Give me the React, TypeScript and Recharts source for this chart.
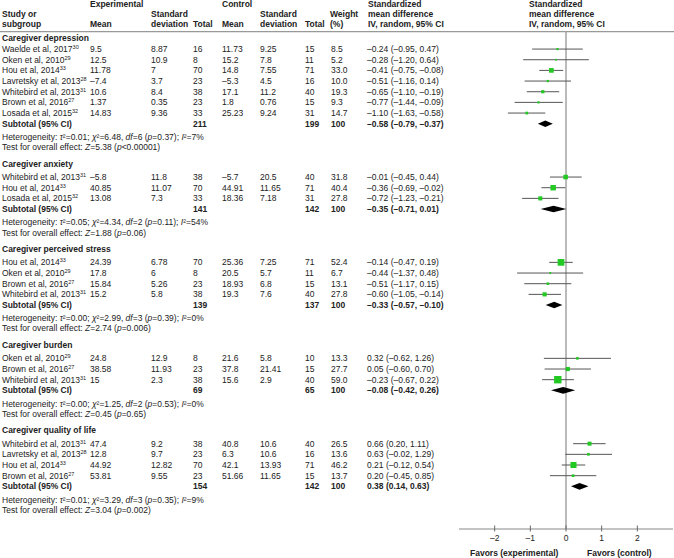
import React from 'react';
import { ComposedChart, Scatter, XAxis, YAxis, ErrorBar, ReferenceLine } from 'recharts';

const FONT = '"Liberation Sans", Arial, Helvetica, sans-serif';
const TEXT = '#222';
const GREEN = '#22c922';
const FS = 8.5;

const groupTitles = [
  'Caregiver depression',
  'Caregiver anxiety',
  'Caregiver perceived stress',
  'Caregiver burden',
  'Caregiver quality of life',
];

// one entry per study, in the order they appear
const studyGroup = [0, 0, 0, 0, 0, 0, 0, 1, 1, 1, 2, 2, 2, 2, 3, 3, 3, 4, 4, 4, 4];
const studyName = [
  'Waelde et al, 2017', 'Oken et al, 2010', 'Hou et al, 2014', 'Lavretsky et al, 2013',
  'Whitebird et al, 2013', 'Brown et al, 2016', 'Losada et al, 2015',
  'Whitebird et al, 2013', 'Hou et al, 2014', 'Losada et al, 2015',
  'Hou et al, 2014', 'Oken et al, 2010', 'Brown et al, 2016', 'Whitebird et al, 2013',
  'Oken et al, 2010', 'Brown et al, 2016', 'Whitebird et al, 2013',
  'Whitebird et al, 2013', 'Lavretsky et al, 2013', 'Hou et al, 2014', 'Brown et al, 2016',
];
const studyRef = ['30', '29', '33', '28', '31', '27', '32', '31', '33', '32', '33', '29', '27', '31', '29', '27', '31', '31', '28', '33', '27'];
const expMean = [9.5, 12.5, 11.78, -7.4, 10.6, 1.37, 14.83, -5.8, 40.85, 13.08, 24.39, 17.8, 15.84, 15.2, 24.8, 38.58, 15, 47.4, 12.8, 44.92, 53.81];
const expSD = [8.87, 10.9, 7, 3.7, 8.4, 0.35, 9.36, 11.8, 11.07, 7.3, 6.78, 6, 5.26, 5.8, 12.9, 11.93, 2.3, 9.2, 9.7, 12.82, 9.55];
const expN = [16, 8, 70, 23, 38, 23, 33, 38, 70, 33, 70, 8, 23, 38, 8, 23, 38, 38, 23, 70, 23];
const ctrlMean = [11.73, 15.2, 14.8, -5.3, 17.1, 1.8, 25.23, -5.7, 44.91, 18.36, 25.36, 20.5, 18.93, 19.3, 21.6, 37.8, 15.6, 40.8, 6.3, 42.1, 51.66];
const ctrlSD = [9.25, 7.8, 7.55, 4.5, 11.2, 0.76, 9.24, 20.5, 11.65, 7.18, 7.25, 5.7, 6.8, 7.6, 5.8, 21.41, 2.9, 10.6, 10.6, 13.93, 11.65];
const ctrlN = [15, 11, 71, 16, 40, 15, 31, 40, 71, 31, 71, 11, 15, 40, 10, 15, 40, 40, 16, 71, 15];
const weight = [8.5, 5.2, 33.0, 10.0, 19.3, 9.3, 14.7, 31.8, 40.4, 27.8, 52.4, 6.7, 13.1, 27.8, 13.3, 27.7, 59.0, 26.5, 13.6, 46.2, 13.7];
const smd = [-0.24, -0.28, -0.41, -0.51, -0.65, -0.77, -1.10, -0.01, -0.36, -0.72, -0.14, -0.44, -0.51, -0.60, 0.32, 0.05, -0.23, 0.66, 0.63, 0.21, 0.20];
const ciLow = [-0.95, -1.20, -0.75, -1.16, -1.10, -1.44, -1.63, -0.45, -0.69, -1.23, -0.47, -1.37, -1.17, -1.05, -0.62, -0.60, -0.67, 0.20, -0.02, -0.12, -0.45];
const ciHigh = [0.47, 0.64, -0.08, 0.14, -0.19, -0.09, -0.58, 0.44, -0.02, -0.21, 0.19, 0.48, 0.15, -0.14, 1.26, 0.70, 0.22, 1.11, 1.29, 0.54, 0.85];

// one entry per subgroup
const subExpN = [211, 141, 139, 69, 154];
const subCtrlN = [199, 142, 137, 65, 142];
const subSmd = [-0.58, -0.35, -0.33, -0.08, 0.38];
const subLow = [-0.79, -0.71, -0.57, -0.42, 0.14];
const subHigh = [-0.37, 0.01, -0.10, 0.26, 0.63];
const tau2 = ['0.01', '0.05', '0.00', '0.00', '0.01'];
const chi2 = ['6.48', '4.34', '2.99', '1.25', '3.29'];
const hetDf = [6, 2, 3, 2, 3];
const hetP = ['0.37', '0.11', '0.39', '0.53', '0.35'];
const iSq = [7, 54, 0, 0, 9];
const zVal = ['5.38', '1.88', '2.74', '0.45', '3.04'];
const zP = ['<0.00001', '=0.06', '=0.006', '=0.65', '=0.002'];

const xTicks = [-2, -1, 0, 1, 2];

type Row = { y: number; kind: 'header' | 'study' | 'subtotal' | 'het' | 'test'; idx: number };

const rows: Row[] = [];
const studyRow: number[] = [];
const subRow: number[] = [];
let cursor = 0;
groupTitles.forEach((_, g) => {
  rows.push({ y: g === 0 ? cursor : cursor - 0.25, kind: 'header', idx: g });
  studyGroup.forEach((sg, i) => {
    if (sg !== g) return;
    cursor += 1;
    studyRow[i] = cursor;
    rows.push({ y: cursor, kind: 'study', idx: i });
  });
  cursor += 1;
  subRow[g] = cursor;
  rows.push({ y: cursor, kind: 'subtotal', idx: g });
  rows.push({ y: cursor + 1.25, kind: 'het', idx: g });
  rows.push({ y: cursor + 2.2, kind: 'test', idx: g });
  cursor += 4;
});

const studyData = smd.map((m, i) => ({
  x: m,
  y: studyRow[i],
  err: [m - ciLow[i], ciHigh[i] - m],
  w: weight[i],
}));

const fmt = (v: number) => String(v).replace('-', '–');
const fmt2 = (v: number) => v.toFixed(2).replace('-', '–');
const ciText = (m: number, lo: number, hi: number) => `${fmt2(m)} (${fmt2(lo)}, ${fmt2(hi)})`;

const col = { name: 2, expMean: 90, expSD: 151, expN: 193, ctrlMean: 222, ctrlSD: 260, ctrlN: 305, weight: 331, ci: 367 };

const T = ({ x, y, bold, children }: { x: number; y: number; bold?: boolean; children: React.ReactNode }) => (
  <text x={x} y={y} fontSize={FS} fontFamily={FONT} fill={TEXT} fontWeight={bold ? 'bold' : 'normal'}>
    {children}
  </text>
);

const I = ({ children }: { children: React.ReactNode }) => <tspan fontStyle="italic">{children}</tspan>;

const RowTick = (props: any) => {
  const { y, payload } = props;
  const row = rows.find((r) => Math.abs(r.y - payload.value) < 1e-6);
  if (!row) return null;
  const by = y + 3;
  const i = row.idx;
  if (row.kind === 'header') {
    return <T x={col.name} y={by} bold>{groupTitles[i]}</T>;
  }
  if (row.kind === 'study') {
    return (
      <g>
        <T x={col.name} y={by}>
          {studyName[i]}
          <tspan dy={-3} fontSize={5.5}>{studyRef[i]}</tspan>
        </T>
        <T x={col.expMean} y={by}>{fmt(expMean[i])}</T>
        <T x={col.expSD} y={by}>{fmt(expSD[i])}</T>
        <T x={col.expN} y={by}>{expN[i]}</T>
        <T x={col.ctrlMean} y={by}>{fmt(ctrlMean[i])}</T>
        <T x={col.ctrlSD} y={by}>{fmt(ctrlSD[i])}</T>
        <T x={col.ctrlN} y={by}>{ctrlN[i]}</T>
        <T x={col.weight} y={by}>{weight[i].toFixed(1)}</T>
        <T x={col.ci} y={by}>{ciText(smd[i], ciLow[i], ciHigh[i])}</T>
      </g>
    );
  }
  if (row.kind === 'subtotal') {
    return (
      <g>
        <T x={col.name} y={by} bold>Subtotal (95% CI)</T>
        <T x={col.expN} y={by} bold>{subExpN[i]}</T>
        <T x={col.ctrlN} y={by} bold>{subCtrlN[i]}</T>
        <T x={col.weight} y={by} bold>100</T>
        <T x={col.ci} y={by} bold>{ciText(subSmd[i], subLow[i], subHigh[i])}</T>
      </g>
    );
  }
  if (row.kind === 'het') {
    return (
      <T x={col.name} y={by}>
        {'Heterogeneity: '}<I>τ</I>{`²=${tau2[i]}; `}<I>χ</I>{`²=${chi2[i]}, `}<I>df</I>{`=${hetDf[i]} (`}<I>p</I>
        {`=${hetP[i]}); `}<I>I</I>{`²=${iSq[i]}%`}
      </T>
    );
  }
  return (
    <T x={col.name} y={by}>
      {'Test for overall effect: '}<I>Z</I>{`=${zVal[i]} (`}<I>p</I>{`${zP[i]})`}
    </T>
  );
};

const AxisTick = (props: any) => {
  const { x, y, payload } = props;
  return (
    <g>
      <line x1={x} x2={x} y1={y - 3.5} y2={y + 2.5} stroke="#666" />
      <text x={x} y={y + 12} textAnchor="middle" fontSize={FS} fontFamily={FONT} fill={TEXT}>
        {fmt(payload.value)}
      </text>
    </g>
  );
};

const Square = (props: any) => {
  const { cx, cy, payload } = props;
  const s = 1.2 + 0.105 * payload.w;
  return <rect x={cx - s / 2} y={cy - s / 2} width={s} height={s} fill={GREEN} />;
};

const Diamond = (props: any) => (
  <polygon points={props.points.map((p: any) => `${p.x},${p.y}`).join(' ')} fill="#000" />
);

const Header = () => (
  <svg width={674} height={558} style={{ position: 'absolute', left: 0, top: 0, pointerEvents: 'none' }}>
    <T x={90} y={6.5} bold>Experimental</T>
    <T x={222} y={6.5} bold>Control</T>
    <T x={2} y={16.7} bold>Study or</T>
    <T x={2} y={26.7} bold>subgroup</T>
    <T x={90} y={26.7} bold>Mean</T>
    <T x={151} y={16.7} bold>Standard</T>
    <T x={151} y={26.7} bold>deviation</T>
    <T x={193} y={26.7} bold>Total</T>
    <T x={222} y={26.7} bold>Mean</T>
    <T x={260} y={16.7} bold>Standard</T>
    <T x={260} y={26.7} bold>deviation</T>
    <T x={305} y={26.7} bold>Total</T>
    <T x={330} y={16.7} bold>Weight</T>
    <T x={330} y={26.7} bold>(%)</T>
    <T x={368} y={6.5} bold>Standardized</T>
    <T x={368} y={16.7} bold>mean difference</T>
    <T x={368} y={26.7} bold>IV, random, 95% CI</T>
    <T x={529} y={6.5} bold>Standardized</T>
    <T x={529} y={16.7} bold>mean difference</T>
    <T x={529} y={26.7} bold>IV, random, 95% CI</T>
    <line x1={0} x2={674} y1={31.7} y2={31.7} stroke="#999" strokeWidth={1.3} />
    <T x={470} y={556} bold>Favors (experimental)</T>
    <T x={587} y={556} bold>Favors (control)</T>
  </svg>
);

export default function App() {
  return (
    <div style={{ position: 'absolute', left: 0, top: 0, width: 674, height: 558, background: '#fff', fontFamily: FONT }}>
      <ComposedChart width={674} height={558} margin={{ top: 32, right: 1, bottom: 0, left: 0 }}>
        <XAxis
          type="number"
          dataKey="x"
          domain={[-3, 3]}
          ticks={xTicks}
          allowDataOverflow
          height={29}
          tickSize={0}
          tickMargin={0}
          tickLine={false}
          axisLine={{ stroke: '#888' }}
          tick={AxisTick}
          interval={0}
        />
        <YAxis
          type="number"
          dataKey="y"
          domain={[-0.6, 46]}
          reversed
          allowDataOverflow
          width={459}
          ticks={rows.map((r) => r.y)}
          interval={0}
          tick={RowTick}
          tickLine={false}
          axisLine={false}
        />
        <ReferenceLine x={0} stroke="#777" />
        <Scatter data={studyData} shape={Square} isAnimationActive={false}>
          <ErrorBar dataKey="err" direction="x" width={0} stroke="#555" strokeWidth={1} isAnimationActive={false} />
        </Scatter>
        {subSmd.map((m, g) => (
          <Scatter
            key={g}
            data={[
              { x: subLow[g], y: subRow[g] },
              { x: m, y: subRow[g] - 0.31 },
              { x: subHigh[g], y: subRow[g] },
              { x: m, y: subRow[g] + 0.31 },
            ]}
            shape={() => <g />}
            line={Diamond}
            isAnimationActive={false}
          />
        ))}
      </ComposedChart>
      <Header />
    </div>
  );
}
